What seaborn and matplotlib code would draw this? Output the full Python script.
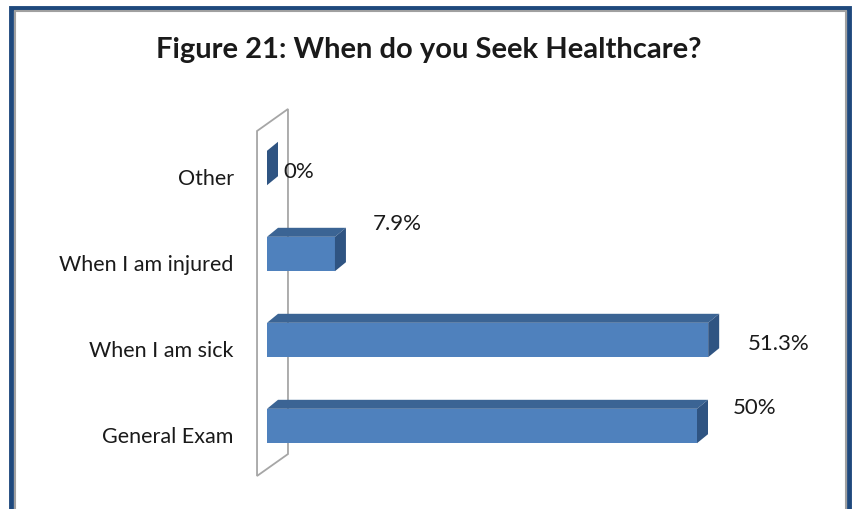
import pandas as pd
import matplotlib.pyplot as plt
import matplotlib.transforms as mtransforms
import seaborn as sns
from matplotlib.patches import Polygon, Rectangle

# Data
categories = ['Other', 'When I am injured', 'When I am sick', 'General Exam']
values = [0, 7.9, 51.3, 50]
value_labels = ['0%', '7.9%', '51.3%', '50%']

df = pd.DataFrame({'answer': categories, 'pct': values})

sns.set_theme(style="white")
plt.rcParams['font.family'] = ['Lato', 'DejaVu Sans']

front_col = '#4F81BD'
top_col = '#3B6494'
side_col = '#2F5482'
text_col = '#1a1a1a'

W, H = 854, 510
fig = plt.figure(figsize=(W / 100, H / 100), dpi=100)

# axes placed so that 0% sits at x=267 px, 8.6 px per percent
px_per_unit = 8.6
ax_left, ax_top, ax_bot = 267, 126, 470
xmax = 60
ax = fig.add_axes([ax_left / W, 1 - ax_bot / H, xmax * px_per_unit / W, (ax_bot - ax_top) / H])

bar_h = 0.4
sns.barplot(data=df, x='pct', y='answer', orient='h', color=front_col,
            width=bar_h, saturation=1, ax=ax, zorder=3, linewidth=0)

ax.set_xlim(0, xmax)
ax.set_ylim(3.5, -0.5)

# 3D depth for every bar
dx = 11 / px_per_unit
dy = 9 / 86
for i, v in enumerate(values):
    top = i - bar_h / 2
    bot = i + bar_h / 2
    if v > 0:
        ax.add_patch(Polygon([(0, top), (v, top), (v + dx, top - dy), (dx, top - dy)],
                             closed=True, facecolor=top_col, edgecolor='none', zorder=3, clip_on=False))
    ax.add_patch(Polygon([(v, top), (v + dx, top - dy), (v + dx, bot - dy), (v, bot)],
                         closed=True, facecolor=side_col, edgecolor='none', zorder=3, clip_on=False))

# back wall outline (behind bars)
wall = [(-1.16, -0.43), (2.44, -0.686), (2.44, 3.326), (-1.16, 3.581)]
ax.add_patch(Polygon(wall, closed=True, facecolor='none', edgecolor='#A6A6A6',
                     linewidth=1.3, zorder=1, clip_on=False))

# data labels (pixel nudges)
nudges = [(16, 3), (38, -31), (40, 3), (36, -19)]
for i, (v, lab) in enumerate(zip(values, value_labels)):
    ox, oy = nudges[i]
    ax.text(v + ox / px_per_unit, i + oy / 86, lab, ha='left', va='center',
            fontsize=16, color=text_col, zorder=5)

for s in ax.spines.values():
    s.set_visible(False)
ax.set_xticks([])
ax.set_xlabel('')
ax.set_ylabel('')
ax.tick_params(axis='y', length=0, pad=24, labelsize=15.5, labelcolor=text_col)
ax.set_facecolor('none')
shift = mtransforms.ScaledTranslation(0, -8 / 100, fig.dpi_scale_trans)
for lab in ax.get_yticklabels():
    lab.set_transform(lab.get_transform() + shift)

fig.text(429 / W, 1 - 50 / H, 'Figure 21: When do you Seek Healthcare?',
         ha='center', va='center', fontsize=21, fontweight='bold', color=text_col)

# chart border
fig.patches.append(Rectangle((11 / W, -0.1), (849 - 11) / W, 1.1 - 8.5 / H,
                             transform=fig.transFigure, facecolor='none',
                             edgecolor='#1F497D', linewidth=3.5, zorder=0))
fig.patches.append(Rectangle((14.5 / W, -0.1), (846 - 14.5) / W, 1.1 - 12 / H,
                             transform=fig.transFigure, facecolor='none',
                             edgecolor='#A0A0A0', linewidth=1.5, zorder=0))

plt.savefig('out.png', dpi=100)
